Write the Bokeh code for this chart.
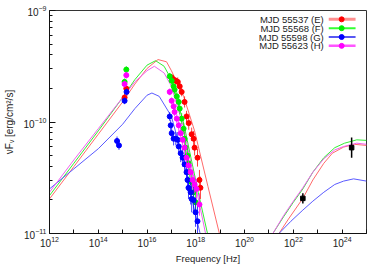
import numpy as np
from bokeh.plotting import figure
from bokeh.models import FixedTicker
from bokeh.embed import file_html
from bokeh.resources import INLINE
from bokeh.core.properties import value

# ---------------- data (log10 nu [Hz], log10 nuFnu [erg/cm2/s]) ----------------
labels = ["MJD 55537 (E)", "MJD 55568 (F)", "MJD 55598 (G)", "MJD 55623 (H)"]

E_lognu = [15.08, 15.15, 17.01, 17.09, 17.18, 17.26, 17.34, 17.42, 17.54, 17.62, 17.71, 17.83, 17.91, 17.95, 18.07, 18.15, 18.19]
E_logF = [-9.78, -9.70, -9.60, -9.62, -9.63, -9.64, -9.68, -9.73, -9.82, -9.95, -10.01, -10.11, -10.15, -10.23, -10.32, -10.52, -10.59]
E_err = [0.03, 0.03, 0.03, 0.03, 0.03, 0.04, 0.04, 0.04, 0.05, 0.05, 0.06, 0.06, 0.07, 0.07, 0.08, 0.09, 0.10]

F_lognu = [15.08, 15.15, 16.93, 17.01, 17.09, 17.13, 17.22, 17.30, 17.34, 17.42, 17.50, 17.54, 17.58, 17.66, 17.70, 17.75, 17.83, 17.91, 17.99]
F_logF = [-9.64, -9.53, -9.59, -9.63, -9.68, -9.71, -9.77, -9.82, -9.88, -9.97, -10.06, -10.15, -10.23, -10.30, -10.37, -10.45, -10.54, -10.63, -10.72]
F_err = [0.03, 0.03, 0.03, 0.03, 0.03, 0.04, 0.04, 0.04, 0.05, 0.05, 0.05, 0.06, 0.06, 0.07, 0.07, 0.08, 0.08, 0.09, 0.10]

G_lognu = [14.77, 14.85, 15.08, 15.16, 16.93, 16.97, 17.01, 17.09, 17.18, 17.26, 17.30, 17.38, 17.46, 17.54, 17.62, 17.66, 17.70, 17.79, 17.83, 17.91, 17.99, 18.07]
G_logF = [-10.17, -10.21, -9.81, -9.73, -9.95, -10.03, -10.10, -10.15, -10.15, -10.16, -10.22, -10.28, -10.32, -10.38, -10.45, -10.52, -10.59, -10.63, -10.69, -10.70, -10.81, -10.89]
G_err = [0.04, 0.04, 0.03, 0.03, 0.04, 0.05, 0.05, 0.06, 0.06, 0.07, 0.07, 0.08, 0.08, 0.09, 0.09, 0.10, 0.10, 0.11, 0.12, 0.12, 0.13, 0.14]

H_lognu = [15.08, 15.15, 16.93, 17.01, 17.09, 17.13, 17.22, 17.30, 17.38, 17.46, 17.54, 17.62, 17.70, 17.79, 17.87, 17.95, 18.03, 18.15]
H_logF = [-9.66, -9.58, -9.73, -9.81, -9.86, -9.91, -9.97, -10.03, -10.10, -10.16, -10.23, -10.32, -10.39, -10.45, -10.52, -10.56, -10.60, -10.74]
H_err = [0.03, 0.03, 0.03, 0.03, 0.04, 0.04, 0.04, 0.05, 0.05, 0.05, 0.06, 0.06, 0.07, 0.07, 0.08, 0.08, 0.09, 0.10]

LAT_lognu = [22.39, 24.39]
LAT_logF = [-10.685, -10.23]
LAT_err = [0.045, 0.09]

# model curves (synchrotron + SSC)
E_sync_lognu = [12.0, 13.0, 14.0, 15.0, 15.5, 16.0, 16.45, 16.8, 17.0, 17.5, 17.95, 18.5, 19.0]
E_sync_logF = [-10.69, -10.40, -10.11, -9.82, -9.66, -9.52, -9.44, -9.46, -9.54, -9.77, -10.08, -10.58, -11.03]
E_ssc_lognu = [21.41, 21.8, 22.39, 22.8, 23.25, 23.6, 24.06, 24.5, 25.0]
E_ssc_logF = [-11.0, -10.87, -10.685, -10.52, -10.37, -10.28, -10.225, -10.20, -10.21]

F_sync_lognu = [12.0, 13.0, 14.0, 15.0, 15.5, 16.0, 16.35, 16.7, 17.0, 17.5, 18.1, 18.5]
F_sync_logF = [-10.66, -10.37, -10.08, -9.78, -9.62, -9.49, -9.45, -9.50, -9.62, -10.01, -10.63, -11.02]
F_ssc_lognu = [21.16, 21.6, 22.0, 22.39, 22.8, 23.25, 23.7, 24.1, 24.6, 25.0]
F_ssc_logF = [-11.0, -10.85, -10.72, -10.60, -10.45, -10.32, -10.23, -10.19, -10.16, -10.165]

G_sync_lognu = [12.0, 13.0, 14.0, 15.0, 15.5, 16.0, 16.2, 16.5, 17.0, 17.5, 17.9, 18.2]
G_sync_logF = [-10.60, -10.42, -10.24, -10.02, -9.88, -9.76, -9.74, -9.77, -9.95, -10.35, -10.75, -11.02]
G_ssc_lognu = [21.41, 21.9, 22.39, 22.8, 23.25, 23.7, 24.06, 24.47, 25.0]
G_ssc_logF = [-11.0, -10.89, -10.79, -10.71, -10.63, -10.56, -10.53, -10.51, -10.53]

H_sync_lognu = [12.0, 13.0, 14.0, 15.0, 15.5, 16.0, 16.3, 16.7, 17.0, 17.5, 18.0, 18.4]
H_sync_logF = [-10.63, -10.34, -10.06, -9.78, -9.64, -9.54, -9.50, -9.56, -9.68, -10.05, -10.58, -11.0]
H_ssc_lognu = [21.16, 21.6, 22.0, 22.39, 22.8, 23.25, 23.7, 24.06, 24.6, 25.0]
H_ssc_logF = [-11.0, -10.84, -10.71, -10.59, -10.45, -10.33, -10.25, -10.22, -10.19, -10.20]

x_major = [12, 14, 16, 18, 20, 22, 24]
x_minor = [13, 15, 17, 19, 21, 23, 25]
y_major = [-11, -10, -9]

# ---------------- figure ----------------
XR = (1e12, 1e25)
YR = (1e-11, 1e-9)
p = figure(width=382, height=266, x_axis_type="log", y_axis_type="log",
           x_range=XR, y_range=YR, output_backend="svg", toolbar_location=None,
           min_border_left=47, min_border_right=16, min_border_top=10, min_border_bottom=29)
p.background_fill_color = "white"
p.border_fill_color = "white"
p.grid.visible = False
p.outline_line_color = "#333333"
p.outline_line_width = 1

FONT = "Liberation Sans"

p.xaxis.ticker = FixedTicker(ticks=[10.0 ** k for k in x_major], minor_ticks=[10.0 ** k for k in x_minor])
y_minor = [m * 10.0 ** k for k in [-11, -10] for m in range(2, 10)]
p.yaxis.ticker = FixedTicker(ticks=[10.0 ** k for k in y_major], minor_ticks=y_minor)
for ax in (p.xaxis, p.yaxis):
    ax.axis_line_color = "#111111"
    ax.major_tick_line_color = "#111111"
    ax.minor_tick_line_color = "#111111"
    ax.major_tick_out = 0
    ax.minor_tick_out = 0
    ax.major_label_text_font = FONT
    ax.major_label_text_font_size = "10px"
    ax.major_label_text_color = "#222222"
    ax.axis_label_text_font = FONT
    ax.axis_label_text_font_style = "normal"
    ax.axis_label_text_color = "#222222"
p.xaxis.axis_label_text_font_size = "9.5px"
p.yaxis.axis_label_text_font_size = "10px"
p.xaxis.major_tick_in = 4
p.xaxis.minor_tick_in = 4
p.yaxis.major_tick_in = 6
p.yaxis.minor_tick_in = 3
p.xaxis.major_label_standoff = 2
p.yaxis.major_label_standoff = 3
p.xaxis.axis_label = "Frequency [Hz]"
p.yaxis.axis_label = "νFᵥ [erg/cm²/s]"
p.xaxis.axis_label_standoff = 3
p.yaxis.axis_label_standoff = 6

FL, FR, FT, FB = 47.0, 366.0, 10.0, 237.0  # frame edges in figure pixels


def px2data(xp, yp):
    lxp = np.log10(XR[0]) + (xp - FL) / (FR - FL) * (np.log10(XR[1]) - np.log10(XR[0]))
    lyp = np.log10(YR[1]) - (yp - FT) / (FB - FT) * (np.log10(YR[1]) - np.log10(YR[0]))
    return 10.0 ** lxp, 10.0 ** lyp


line_cols = ["#ff6a6a", "#33ee33", "#5a5aff", "#f060f0"]
pt_cols = ["#ff0000", "#00ee00", "#0000ff", "#ff00ff"]

models = [
    (E_sync_lognu, E_sync_logF, E_ssc_lognu, E_ssc_logF),
    (F_sync_lognu, F_sync_logF, F_ssc_lognu, F_ssc_logF),
    (G_sync_lognu, G_sync_logF, G_ssc_lognu, G_ssc_logF),
    (H_sync_lognu, H_sync_logF, H_ssc_lognu, H_ssc_logF),
]
for (sx, sy, cx, cy), col in zip(models, line_cols):
    p.line(10.0 ** np.array(sx), 10.0 ** np.array(sy), line_color=col, line_width=1)
    p.line(10.0 ** np.array(cx), 10.0 ** np.array(cy), line_color=col, line_width=1)

series = [
    (E_lognu, E_logF, E_err),
    (F_lognu, F_logF, F_err),
    (G_lognu, G_logF, G_err),
    (H_lognu, H_logF, H_err),
]
for (lx, ly, le), col in zip(series, pt_cols):
    x = 10.0 ** np.array(lx)
    ly = np.array(ly)
    le = np.array(le)
    p.segment(x0=x, x1=x, y0=10.0 ** (ly - le), y1=10.0 ** (ly + le), line_color=col, line_width=1, line_alpha=0.75)
    p.scatter(x, 10.0 ** ly, size=5, marker="circle", fill_color=col, line_color=col)

lx = 10.0 ** np.array(LAT_lognu)
ly = np.array(LAT_logF)
le = np.array(LAT_err)
p.segment(x0=lx, x1=lx, y0=10.0 ** (ly - le), y1=10.0 ** (ly + le), line_color="black", line_width=1.5)
p.scatter(lx, 10.0 ** ly, size=4.5, marker="square", fill_color="black", line_color="black")

# ---------------- legend (text left, sample right) ----------------
leg_lw = [3, 2, 1.5, 2.5]
leg_line_cols = ["#ff9090", "#33ff33", "#2020ee", "#ff55ff"]
for i, (lab, lc, pc, lw) in enumerate(zip(labels, leg_line_cols, pt_cols, leg_lw)):
    yp = 19 + 9 * i
    tx, ty = px2data(323, yp)
    p.text([tx], [ty], text=[lab], text_align="right", text_baseline="middle",
           text_font=value(FONT), text_font_size="9.5px", text_color="#222222")
    x0, y0 = px2data(328, yp)
    x1, _ = px2data(355, yp)
    xm, _ = px2data(341, yp)
    p.line([x0, x1], [y0, y0], line_color=lc, line_width=lw)
    p.scatter([xm], [y0], size=5, marker="circle", fill_color=pc, line_color=pc)

open("out.html", "w").write(file_html(p, INLINE))
